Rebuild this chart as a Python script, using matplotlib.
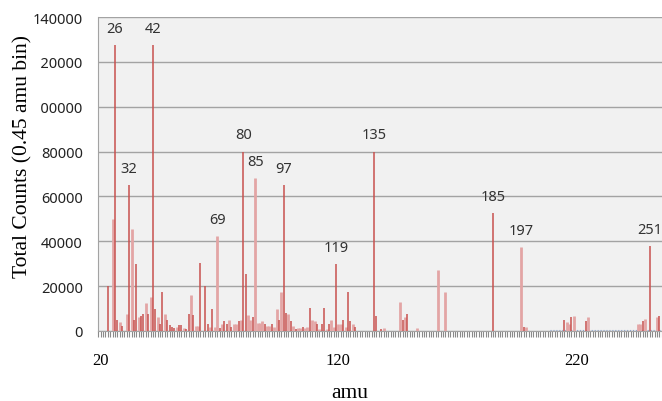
import matplotlib
matplotlib.use("Agg")
import matplotlib.pyplot as plt
from matplotlib.ticker import MultipleLocator, FixedLocator

# mass (amu), total counts, shade ('d' = dark red stick, 'l' = pale wide stick)
amu = [23, 25, 26, 27, 28, 29, 31, 32, 33, 34, 35, 36, 37, 38, 39, 40, 41, 42, 43, 44,
       45, 46, 47, 48, 49, 50, 51, 52, 53, 54, 55, 56, 57, 58, 59, 60, 61, 62, 64, 65,
       66, 67, 68, 69, 70, 71, 72, 73, 74, 75, 76, 77, 78, 79, 80, 81, 82, 83, 84, 85,
       86, 87, 88, 89, 90, 91, 92, 93, 94, 95, 96, 97, 98, 99, 100, 101, 102, 103, 104, 105,
       106, 107, 108, 109, 110, 111, 112, 113, 114, 115, 116, 117, 118, 119, 120, 121, 122, 123, 124, 125,
       126, 127, 135, 136, 138, 139, 146, 147, 148, 149, 153, 162, 165, 185, 197, 198, 199, 215, 216, 217,
       218, 219, 224, 225, 246, 247, 248, 249, 251, 254, 255]
counts = [20000, 50000, 127500, 5000, 4200, 2200, 7600, 65000, 45300, 5000, 30000, 6100, 6700, 7500, 12300, 7500, 15000, 127500, 9700, 6100,
          3000, 17300, 7500, 4700, 2500, 1900, 1300, 1900, 2500, 2500, 1200, 700, 7500, 16000, 7000, 2100, 2100, 30200, 20100, 3100,
          2000, 10000, 2000, 42200, 1200, 3000, 4400, 3200, 5000, 1900, 3100, 3200, 4500, 5000, 80000, 25300, 7100, 5000, 6200, 68000,
          3600, 3600, 4500, 3100, 2200, 2200, 3100, 2000, 10000, 5000, 17200, 65000, 8100, 7700, 4500, 2100, 900, 1200, 1500, 2000,
          1500, 2000, 10100, 5000, 4500, 3300, 900, 3300, 10100, 900, 3300, 5000, 2000, 30000, 3300, 3300, 5000, 2000, 17500, 4500,
          3300, 2000, 80000, 6900, 900, 1300, 12800, 5000, 6200, 7700, 1200, 27000, 17500, 52600, 37300, 1600, 1600, 5000, 4200, 3000,
          6200, 6800, 4500, 6200, 3000, 3000, 4500, 5300, 37800, 6200, 6500]
shade = list("dlddldldlddlddldlddl"
             "ddlddddlddlddldllddd"
             "ldlldlddldlldlddlldl"
             "llldlldlldlddldldlld"
             "lldlldlddldlldlldldd"
             "lddddlldldllldldldll"
             "dldllldldld")

peak_labels = [26, 32, 42, 69, 80, 85, 97, 119, 135, 185, 197, 251]

# faint blue trace sitting just above the baseline at high mass
base_amu = [209, 257]
base_counts = [600, 600]

yticks = [0, 20000, 40000, 60000, 80000, 100000, 120000, 140000]
xticks = [20, 120, 220]

assert len(amu) == len(counts) == len(shade)

fig = plt.figure(figsize=(6.62, 4.02), dpi=100, facecolor="white")
ax = fig.add_axes([98 / 662, 1 - 332 / 402, 564 / 662, 314 / 402])
ax.set_facecolor("#f1f1f1")

ax.set_xlim(18.9, 256.1)
ax.set_ylim(0, 140000)
ax.set_yticks(yticks)
ax.yaxis.grid(True, color="#a3a3a3", lw=1.0, zorder=0)
ax.set_axisbelow(True)

for s in ("top", "right"):
    ax.spines[s].set_visible(False)
ax.spines["left"].set_color("#a3a3a3")
ax.spines["bottom"].set_color("#a3a3a3")

pale_x = [a for a, s in zip(amu, shade) if s == "l"]
pale_y = [c for c, s in zip(counts, shade) if s == "l"]
dark_x = [a for a, s in zip(amu, shade) if s == "d"]
dark_y = [c for c, s in zip(counts, shade) if s == "d"]
ax.vlines(pale_x, 0, pale_y, color="#e3a5a5", lw=2.0, zorder=3)
ax.vlines(dark_x, 0, dark_y, color="#c8514f", lw=1.1, zorder=4)
ax.plot(base_amu, base_counts, ls=":", color="#8ea6cf", lw=0.8, zorder=2)

lookup = dict(zip(amu, counts))
for m in peak_labels:
    ax.annotate(str(m), xy=(m, lookup[m]), xytext=(0, 9.5), textcoords="offset points",
                ha="center", va="baseline", fontsize=10.5, family="Noto Sans",
                color="#333333", annotation_clip=False)

ax.xaxis.set_major_locator(FixedLocator(xticks))
ax.xaxis.set_minor_locator(MultipleLocator(1))
ax.tick_params(axis="x", which="both", length=4, width=0.8, color="#8a8a8a")
ax.tick_params(axis="x", which="major", pad=11, labelsize=12)
ax.tick_params(axis="y", length=0, pad=11, labelsize=10.5)
for t in ax.get_xticklabels():
    t.set_family("Liberation Serif")
for t in ax.get_yticklabels():
    t.set_family("Noto Sans")
    t.set_color("#222222")

ax.set_xlabel("amu", family="Liberation Serif", fontsize=15.5)
ax.xaxis.set_label_coords(0.447, -0.165)
# white box behind the axis title, drawn over the leading digits of the tick labels
ax.set_ylabel("Total Counts (0.45 amu bin)", family="Liberation Serif", fontsize=15.5,
              bbox=dict(facecolor="white", edgecolor="none", pad=5))
ax.yaxis.set_label_coords(-0.117, 0.56)
ax.yaxis.label.set_zorder(5)

fig.savefig("out.png", dpi=100, facecolor="white")
